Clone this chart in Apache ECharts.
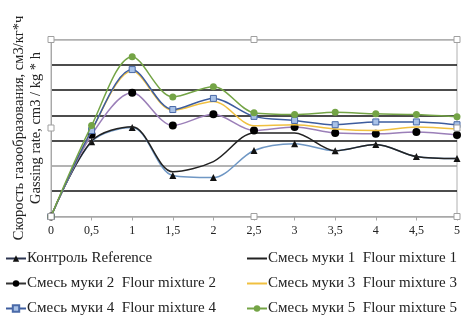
<!DOCTYPE html>
<html><head><meta charset="utf-8">
<script src="https://cdn.jsdelivr.net/npm/echarts@6/dist/echarts.min.js"></script>
<style>html,body{margin:0;padding:0;background:#fff}#c{width:463px;height:322px}</style>
</head><body><div id="c"></div>
<script>
const xValues = [0, 0.5, 1, 1.5, 2, 2.5, 3, 3.5, 4, 4.5, 5];
const seriesNames = ['Контроль Reference', 'Смесь муки 1  Flour mixture 1', 'Смесь муки 2  Flour mixture 2', 'Смесь муки 3  Flour mixture 3', 'Смесь муки 4  Flour mixture 4', 'Смесь муки 5  Flour mixture 5'];
const reference = [0, 2.96, 3.52, 1.62, 1.54, 2.61, 2.88, 2.60, 2.85, 2.37, 2.29];
const flour1 = [0, 2.98, 3.55, 1.77, 2.17, 3.30, 3.30, 2.60, 2.85, 2.37, 2.29];
const flour2 = [0, 3.23, 4.89, 3.60, 4.04, 3.40, 3.54, 3.30, 3.27, 3.34, 3.22];
const flour3 = [0, 3.40, 5.75, 4.20, 4.55, 3.59, 3.63, 3.46, 3.40, 3.54, 3.46];
const flour4 = [0, 3.40, 5.81, 4.23, 4.67, 3.96, 3.80, 3.63, 3.74, 3.74, 3.63];
const flour5 = [0, 3.60, 6.32, 4.73, 5.13, 4.10, 4.03, 4.12, 4.06, 4.03, 3.94];
const yAxisTitle = 'Скорость газообразования, см3/кг*ч\nGassing rate, cm3 / kg * h';

const pair = arr => xValues.map((x, i) => [x, arr[i]]);
const font = '"Liberation Serif", "Times New Roman", serif';

const styles = [
  {color: '#6f97c4', symbol: 'triangle', symbolSize: 7, mColor: '#111', z: 2},
  {color: '#222222', symbol: 'circle', symbolSize: 0, mColor: '#222', z: 3},
  {color: '#9b7fb8', symbol: 'circle', symbolSize: 8, mColor: '#000', z: 4},
  {color: '#f0c040', symbol: 'circle', symbolSize: 0, mColor: '#f0c040', z: 5},
  {color: '#3d5c9e', symbol: 'rect', symbolSize: 6, mColor: '#a9c2e8', z: 6},
  {color: '#74a446', symbol: 'circle', symbolSize: 7, mColor: '#74a446', z: 7}
];
const datas = [reference, flour1, flour2, flour3, flour4, flour5];

const series = datas.map((d, i) => ({
  name: seriesNames[i],
  type: 'line',
  smooth: 0.32,
  data: pair(d),
  symbol: styles[i].symbol,
  symbolSize: styles[i].symbolSize,
  showSymbol: styles[i].symbolSize > 0,
  z: styles[i].z,
  lineStyle: {color: styles[i].color, width: 1.5},
  itemStyle: {color: styles[i].mColor, borderColor: i === 4 ? '#4a6aa8' : styles[i].mColor, borderWidth: i === 4 ? 1 : 0},
  animation: false
}));

const handles = [[51,39.5],[254,39.5],[457,39.5],[51,128],[457,128],[51,216.5],[254,216.5],[457,216.5]].map(p => ({
  type: 'rect', shape: {x: p[0]-3, y: p[1]-3, width: 6, height: 6},
  style: {fill: '#fff', stroke: '#a0a0a0', lineWidth: 1}, z: 100
}));

const hidden = {color: 'rgba(0,0,0,0)', borderColor: 'rgba(0,0,0,0)', borderWidth: 0};
const legendText = {fontFamily: font, fontSize: 15, color: '#222', padding: [0,0,0,-4]};

const chart = echarts.init(document.getElementById('c'));
chart.setOption({
  animation: false,
  backgroundColor: '#fff',
  grid: {left: 51, right: 6, top: 39.5, bottom: 105.5, show: true, borderColor: '#b0b0b0', borderWidth: 1},
  xAxis: {
    type: 'value', min: 0, max: 5, interval: 0.5,
    axisLine: {show: true, lineStyle: {color: '#a8a8a8'}},
    axisTick: {show: true, length: 4, lineStyle: {color: '#a8a8a8'}},
    splitLine: {show: false},
    axisLabel: {fontFamily: font, fontSize: 12, color: '#222', margin: 8,
      formatter: v => String(v).replace('.', ',')}
  },
  yAxis: {
    type: 'value', min: 0, max: 7, interval: 1,
    axisLine: {show: true, lineStyle: {color: '#a8a8a8'}},
    axisTick: {show: false},
    axisLabel: {show: false},
    splitLine: {show: true, lineStyle: {width: 1.6, color: ['#a8a8a8', '#111', '#9a9a9a', '#111', '#111', '#111', '#111', '#b0b0b0']}},
    name: yAxisTitle, nameLocation: 'middle', nameRotate: 90, nameGap: 6,
    nameTextStyle: {fontFamily: font, fontSize: 14.5, color: '#222', lineHeight: 17}
  },
  legend: [
    {data: [
      {name: seriesNames[0], lineStyle: {color: '#2c3550'}},
      {name: seriesNames[2], lineStyle: {color: '#333'}},
      {name: seriesNames[4]}
     ], orient: 'vertical', left: 0, top: 246, itemGap: 10,
     itemWidth: 20, itemHeight: 8, textStyle: legendText},
    {data: [
      {name: seriesNames[1], itemStyle: hidden},
      {name: seriesNames[3], itemStyle: hidden},
      {name: seriesNames[5]}
     ], orient: 'vertical', left: 241, top: 246, itemGap: 10,
     itemWidth: 20, itemHeight: 8, textStyle: legendText}
  ],
  graphic: handles,
  series: series
});
</script></body></html>
